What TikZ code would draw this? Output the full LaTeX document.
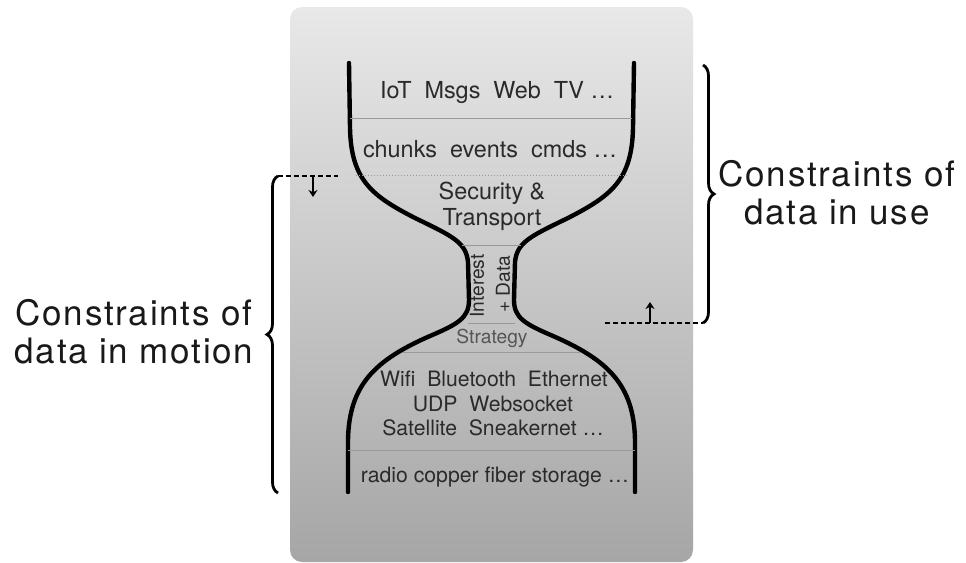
\documentclass[tikz,border=0pt]{standalone}
\usepackage{fontspec}
\setmainfont{TeX Gyre Heros}
\newfontfamily\bigfont[LetterSpace=5]{TeX Gyre Heros}
\usetikzlibrary{decorations.pathreplacing,arrows.meta}
\definecolor{inktext}{HTML}{2A2A2A}
\definecolor{stratgray}{HTML}{555555}
\tikzset{
  glass/.style={line width=2.2pt, line cap=round},
  layer/.style={draw=black!40, line width=0.5pt},
  layertext/.style={text=inktext, font=\fontsize{10.6}{12.5}\selectfont, align=center, inner sep=0pt},
  toptext/.style={layertext, font=\fontsize{11.7}{12.5}\selectfont},
  necktext/.style={text=inktext, font=\fontsize{9.6}{10}\selectfont, inner sep=0pt},
  bigtext/.style={text=black!90, font=\bigfont\fontsize{17.5}{19}\selectfont, align=center, inner sep=0pt},
  bracket/.style={decorate, decoration={brace, amplitude=5.5pt}, line width=1.4pt},
  markline/.style={line width=1pt, dash pattern=on 2.5pt off 1.5pt},
  markarrow/.style={line width=1pt, -{Stealth[length=3.5pt,width=4.5pt]}},
}
\begin{document}
\begin{tikzpicture}[x=0.5pt, y=-0.5pt]
\useasboundingbox (0,0) rectangle (966,563);
\shade[rounded corners=6pt, top color=black!9, bottom color=black!35] (290,7) rectangle (693,562);
\foreach \s/\dx in {1/0,-1/983}{
  \draw[glass, shift={(\dx,0)}, xscale=\s] (349,63) -- (350,128) .. controls (351,180) and (372,196) .. (415,218) .. controls (452,236) and (466,242) .. (468,262) -- (469,300) .. controls (469,318) and (458,324) .. (430,336) .. controls (375,360) and (349,385) .. (348,440) -- (348,492);
}
\draw[layer] (350,118) -- (632,118);
\draw[layer, densely dotted] (356,175) -- (627,175);
\draw[layer] (462,245) -- (521,245);
\draw[layer] (468,323) -- (515,323);
\draw[layer] (402,352) -- (581,352);
\draw[layer] (348,450) -- (635,450);
\node[toptext, anchor=base] (apps) at (497,98) {IoT\ \ Msgs\ \ Web\ \ TV …};
\node[toptext, anchor=base] (units) at (490,157) {chunks\ \ events\ \ cmds …};
\node[toptext, anchor=base] (security) at (492,199) {Security \&};
\node[toptext, anchor=base] (transport) at (492,225) {Transport};
\node[necktext, rotate=90] (interest) at (477,286) {Interest};
\node[necktext, rotate=90] (data) at (503,284) {+ Data};
\node[necktext, text=stratgray, anchor=base] (strategy) at (492,343) {Strategy};
\node[layertext, anchor=base] (links) at (494,386) {Wifi\ \ Bluetooth\ \ Ethernet};
\node[layertext, anchor=base] (protos) at (493,411) {UDP\ \ Websocket};
\node[layertext, anchor=base] (others) at (493,435) {Satellite\ \ Sneakernet …};
\node[layertext, anchor=base] (media) at (495,482) {radio copper fiber storage …};
\coordinate (motiontop) at (278,176);
\coordinate (motionbot) at (278,493);
\coordinate (usetop) at (703,65);
\coordinate (usebot) at (703,323);
\coordinate (motionend) at (338,176);
\coordinate (useend) at (605,323);
\coordinate (motiontail) at (313,176);
\coordinate (motionhead) at (313,197);
\coordinate (usetail) at (650,323);
\coordinate (usehead) at (650,302);
\draw[bracket] (motionbot) -- (motiontop);
\draw[bracket] (usetop) -- (usebot);
\draw[markline] (motiontop) -- (motionend);
\draw[markline] (useend) -- (usebot);
\draw[markarrow] (motiontail) -- (motionhead);
\draw[markarrow] (usetail) -- (usehead);
\node[bigtext] (motionlabel) at (134,332) {Constraints of\\data in motion};
\node[bigtext] (uselabel) at (837,193) {Constraints of\\data in use};
\end{tikzpicture}
\end{document}
